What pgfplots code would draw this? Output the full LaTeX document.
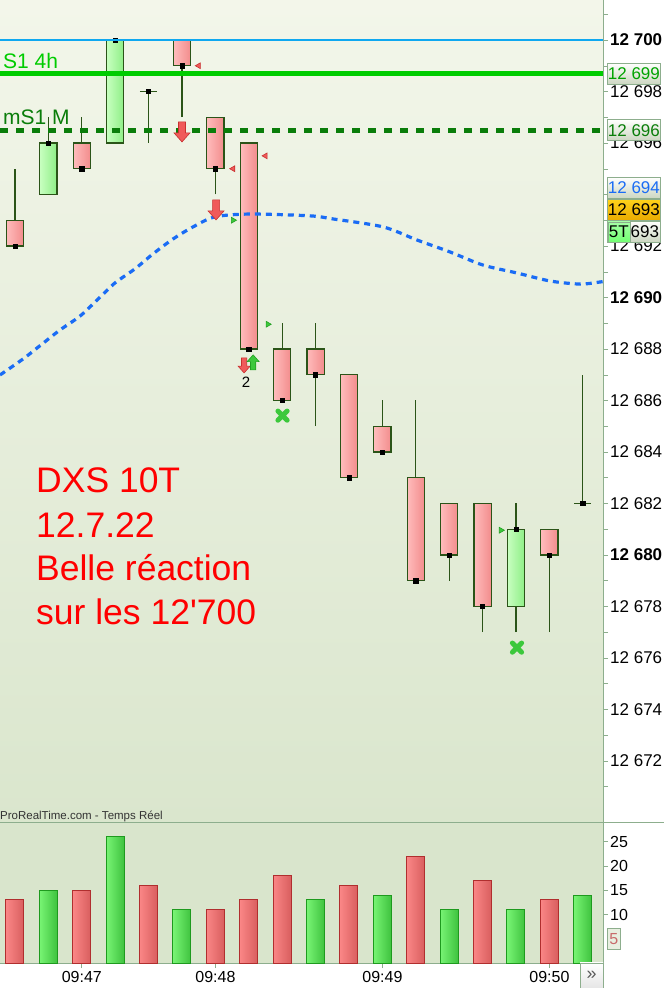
\documentclass[border=0pt]{standalone}
\usepackage{pgfplots}
\pgfplotsset{compat=1.18}
\usepackage{fontspec}
\setmainfont{Liberation Sans}

\definecolor{bgtop}{HTML}{F3F6EA}
\definecolor{bgbot}{HTML}{DAE6CD}
\definecolor{volbg}{HTML}{D9E5CC}
\definecolor{axgreen}{HTML}{8DAE8D}
\definecolor{wick}{HTML}{2B5418}
\definecolor{redL}{HTML}{FFBCBC}
\definecolor{redR}{HTML}{F28C8C}
\definecolor{grnL}{HTML}{C8FFC0}
\definecolor{grnR}{HTML}{8EEE86}
\definecolor{vredL}{HTML}{FA8686}
\definecolor{vredR}{HTML}{D85E5E}
\definecolor{vredD}{HTML}{B02E2E}
\definecolor{vgrnL}{HTML}{78F474}
\definecolor{vgrnR}{HTML}{3EC23E}
\definecolor{vgrnD}{HTML}{1E9A1E}
\definecolor{resblue}{HTML}{10A8F0}
\definecolor{s1green}{HTML}{00CC00}
\definecolor{ms1green}{HTML}{0A7D0A}
\definecolor{mablue}{HTML}{1A6CF5}
\definecolor{sigred}{HTML}{F05A5A}
\definecolor{sigredD}{HTML}{C83030}
\definecolor{siggreen}{HTML}{3CC83C}
\definecolor{siggreenD}{HTML}{22A022}
\definecolor{lastT}{HTML}{FFD21A}
\definecolor{lastB}{HTML}{E8AA00}

% block arrow mark, points down
\pgfdeclareplotmark{dnarrow}{%
  \pgfpathmoveto{\pgfqpoint{-0.35\pgfplotmarksize}{\pgfplotmarksize}}%
  \pgfpathlineto{\pgfqpoint{0.35\pgfplotmarksize}{\pgfplotmarksize}}%
  \pgfpathlineto{\pgfqpoint{0.35\pgfplotmarksize}{-0.1\pgfplotmarksize}}%
  \pgfpathlineto{\pgfqpoint{0.8\pgfplotmarksize}{-0.1\pgfplotmarksize}}%
  \pgfpathlineto{\pgfqpoint{0pt}{-\pgfplotmarksize}}%
  \pgfpathlineto{\pgfqpoint{-0.8\pgfplotmarksize}{-0.1\pgfplotmarksize}}%
  \pgfpathlineto{\pgfqpoint{-0.35\pgfplotmarksize}{-0.1\pgfplotmarksize}}%
  \pgfpathclose
  \pgfusepathqfillstroke}

\tikzset{
  redbody/.style={draw=wick, line width=1.2bp, left color=redL, right color=redR},
  grnbody/.style={draw=wick, line width=1.2bp, left color=grnL, right color=grnR},
  tag/.style={draw=axgreen, line width=0.8bp, top color=white!90!bgtop, bottom color=volbg!85!gray,
    minimum width=53bp, minimum height=21bp, inner sep=0pt, anchor=west,
    font=\fontsize{17bp}{20bp}\selectfont},
}
\pgfplotsset{
  vred/.style={ybar, bar width=18bp, bar shift=0pt, draw=vredD, line width=1bp, left color=vredL, right color=vredR},
  vgrn/.style={ybar, bar width=18bp, bar shift=0pt, draw=vgrnD, line width=1bp, left color=vgrnL, right color=vgrnR},
}

\begin{document}
\begin{tikzpicture}
\fill[white] (0,0) rectangle (664bp,988bp);
\useasboundingbox (0,0) rectangle (664bp,988bp);

% ---------------- price panel ----------------
\begin{axis}[
  at={(0,165bp)}, anchor=south west,
  scale only axis, width=603bp, height=823bp,
  xmin=-0.449, xmax=17.605,
  ymin=12669.59, ymax=12701.553,
  axis x line=none, axis y line*=right,
  y axis line style={draw=axgreen, line width=1bp},
  axis background/.style={top color=bgtop, bottom color=bgbot},
  ytick={12672,12674,...,12700},
  minor ytick={12671,12673,...,12701},
  yticklabels={12 672,12 674,12 676,12 678,\textbf{12 680},12 682,12 684,12 686,12 688,
    \textbf{12 690},12 692,{},12 696,12 698,\textbf{12 700}},
  scaled y ticks=false,
  tick align=outside, major tick length=5bp, minor tick length=5bp,
  every tick/.style={axgreen, line width=0.8bp},
  yticklabel style={font=\fontsize{17bp}{20bp}\selectfont, text=black, inner sep=0pt, xshift=2bp},
  clip mode=individual,
]
% wicks
\addplot[wick, line width=1.3bp, unbounded coords=jump] coordinates {
  (0,12692)(0,12695)(0,nan) (1,12694)(1,12697)(1,nan) (2,12695)(2,12697)(2,nan)
  (4,12696)(4,12698)(4,nan) (5,12697)(5,12700)(5,nan) (6,12694)(6,12697)(6,nan)
  (8,12686)(8,12689)(8,nan) (9,12685)(9,12689)(9,nan) (11,12684)(11,12686)(11,nan)
  (12,12679)(12,12686)(12,nan) (13,12679)(13,12682)(13,nan) (14,12677)(14,12682)(14,nan)
  (15,12677)(15,12682)(15,nan) (16,12677)(16,12681)(16,nan) (17,12682)(17,12687)};
% doji crosses
\addplot[wick, line width=1.3bp, unbounded coords=jump] coordinates {
  (3.74,12698)(4.26,12698)(4,nan) (16.74,12682)(17.26,12682)};
% bodies
\addplot[redbody] coordinates {(-0.26,12692)(0.26,12692)(0.26,12693)(-0.26,12693)} --cycle;
\addplot[grnbody] coordinates {(0.74,12694)(1.26,12694)(1.26,12696)(0.74,12696)} --cycle;
\addplot[redbody] coordinates {(1.74,12695)(2.26,12695)(2.26,12696)(1.74,12696)} --cycle;
\addplot[grnbody] coordinates {(2.74,12696)(3.26,12696)(3.26,12700)(2.74,12700)} --cycle;
\addplot[redbody] coordinates {(4.74,12699)(5.26,12699)(5.26,12700)(4.74,12700)} --cycle;
\addplot[redbody] coordinates {(5.74,12695)(6.26,12695)(6.26,12697)(5.74,12697)} --cycle;
\addplot[redbody] coordinates {(6.74,12688)(7.26,12688)(7.26,12696)(6.74,12696)} --cycle;
\addplot[redbody] coordinates {(7.74,12686)(8.26,12686)(8.26,12688)(7.74,12688)} --cycle;
\addplot[redbody] coordinates {(8.74,12687)(9.26,12687)(9.26,12688)(8.74,12688)} --cycle;
\addplot[redbody] coordinates {(9.74,12683)(10.26,12683)(10.26,12687)(9.74,12687)} --cycle;
\addplot[redbody] coordinates {(10.74,12684)(11.26,12684)(11.26,12685)(10.74,12685)} --cycle;
\addplot[redbody] coordinates {(11.74,12679)(12.26,12679)(12.26,12683)(11.74,12683)} --cycle;
\addplot[redbody] coordinates {(12.74,12680)(13.26,12680)(13.26,12682)(12.74,12682)} --cycle;
\addplot[redbody] coordinates {(13.74,12678)(14.26,12678)(14.26,12682)(13.74,12682)} --cycle;
\addplot[grnbody] coordinates {(14.74,12678)(15.26,12678)(15.26,12681)(14.74,12681)} --cycle;
\addplot[redbody] coordinates {(15.74,12680)(16.26,12680)(16.26,12681)(15.74,12681)} --cycle;
% close markers
\addplot[only marks, mark=square*, mark size=2.1bp, black] coordinates {
  (0,12692)(1,12696)(2,12695)(3,12700)(4,12698)(5,12699)(6,12695)(7,12688)(8,12686)
  (9,12687)(10,12683)(11,12684)(12,12679)(13,12680)(14,12678)(15,12681)(16,12680)(17,12682)};

% support / resistance lines
\addplot[resblue, line width=2bp] coordinates {(-0.449,12700)(17.605,12700)};
\addplot[s1green, line width=5bp] coordinates {(-0.449,12698.68)(17.605,12698.68)};
\addplot[ms1green, line width=5bp, dash pattern=on 8.3bp off 7.7bp] coordinates {(-0.449,12696.49)(17.605,12696.49)};
% moving average
\addplot[mablue, line width=3.2bp, dash pattern=on 6bp off 5bp, smooth, tension=0.5] coordinates {
  (-0.449,12686.99)(0.24,12687.61)(0.81,12688.19)(1.35,12688.74)(1.95,12689.28)(2.49,12689.94)
  (2.99,12690.56)(3.59,12691.11)(4.13,12691.69)(4.73,12692.27)(5.33,12692.74)(5.99,12693.13)
  (7.04,12693.24)(8.83,12693.17)(9.52,12693.05)(11.02,12692.74)(12.04,12692.23)(13.02,12691.77)
  (14.01,12691.26)(15.03,12690.95)(16.02,12690.64)(16.92,12690.52)(17.51,12690.60)(17.605,12690.62)};

% signals
\addplot[only marks, mark=triangle*, mark size=3.4bp, mark options={rotate=90, fill=sigred, draw=sigredD, line width=0.6bp}]
  coordinates {(5.5,12699)(6.53,12695)(7.5,12695.5)};
\addplot[only marks, mark=triangle*, mark size=3.4bp, mark options={rotate=-90, fill=siggreen, draw=siggreenD, line width=0.6bp}]
  coordinates {(6.53,12693)(7.57,12688.96)(14.55,12680.96)};
\addplot[only marks, mark=dnarrow, mark size=10bp, mark options={fill=sigred, draw=sigredD, line width=0.6bp}]
  coordinates {(5.0,12696.43)(6.02,12693.4)};
\addplot[only marks, mark=dnarrow, mark size=7.5bp, mark options={fill=sigred, draw=sigredD, line width=0.6bp}]
  coordinates {(6.86,12687.36)};
\addplot[only marks, mark=dnarrow, mark size=7.5bp, mark options={rotate=180, fill=siggreen, draw=siggreenD, line width=0.6bp}]
  coordinates {(7.13,12687.48)};
\addplot[only marks, mark=x, mark size=6.5bp, mark options={siggreen, line width=5bp, line cap=round}]
  coordinates {(8.01,12685.41)(15.03,12676.4)};
\node[font=\fontsize{15bp}{18bp}\selectfont] at (axis cs:6.92,12686.72) {2};

% price tags on the scale
\node[tag, text=s1green!80!black] at (axis cs:17.605,12698.68) [xshift=4bp] {12 699};
\node[tag, text=ms1green] at (axis cs:17.605,12696.49) [xshift=4bp] {12 696};
\node[tag, text=mablue] at (axis cs:17.605,12694.25) [xshift=4bp] {12 694};
\node[tag, top color=lastT, bottom color=lastB, text=black] at (axis cs:17.605,12693.4) [xshift=4bp] {12 693};
\node[tag] at (axis cs:17.605,12692.55) [xshift=4bp] {\hspace*{22bp}693};
\node[draw=axgreen, line width=0.6bp, top color=green!35, bottom color=green!55!white, minimum height=20bp, minimum width=22bp,
  inner sep=0pt, anchor=west, font=\fontsize{17bp}{20bp}\selectfont] at (axis cs:17.605,12692.55) [xshift=4.5bp] {5T};
\end{axis}

% ---------------- volume panel ----------------
\begin{axis}[
  at={(0,25bp)}, anchor=south west,
  scale only axis, width=603bp, height=140bp,
  xmin=-0.449, xmax=17.605, ymin=0, ymax=28.87,
  axis x line*=bottom, axis y line*=right,
  axis line style={draw=axgreen, line width=1bp},
  axis background/.style={fill=volbg},
  xtick={2,6,11,16}, xticklabels={09:47,09:48,09:49,09:50},
  ytick={10,15,20,25},
  /pgf/number format/assume math mode=true,
  tick align=outside, major tick length=5bp,
  every tick/.style={axgreen, line width=0.8bp},
  ticklabel style={font=\fontsize{16bp}{19bp}\selectfont, text=black},
  yticklabel style={inner sep=0pt, xshift=2bp},
  xticklabel style={inner sep=0pt, yshift=-3bp},
  clip mode=individual,
]
\addplot[vred] coordinates {(0,13)};
\addplot[vgrn] coordinates {(1,15)};
\addplot[vred] coordinates {(2,15)};
\addplot[vgrn] coordinates {(3,26)};
\addplot[vred] coordinates {(4,16)};
\addplot[vgrn] coordinates {(5,11)};
\addplot[vred] coordinates {(6,11)};
\addplot[vred] coordinates {(7,13)};
\addplot[vred] coordinates {(8,18)};
\addplot[vgrn] coordinates {(9,13)};
\addplot[vred] coordinates {(10,16)};
\addplot[vgrn] coordinates {(11,14)};
\addplot[vred] coordinates {(12,22)};
\addplot[vgrn] coordinates {(13,11)};
\addplot[vred] coordinates {(14,17)};
\addplot[vgrn] coordinates {(15,11)};
\addplot[vred] coordinates {(16,13)};
\addplot[vgrn] coordinates {(17,14)};
\node[draw=axgreen, line width=0.8bp, fill=volbg!60!white, text=vredL!80!black, inner sep=0pt, minimum width=13bp, minimum height=21bp,
  anchor=west, font=\fontsize{16bp}{19bp}\selectfont] at (axis cs:17.605,5) [xshift=4bp] {5};
\end{axis}

% panel separator and corner button
\draw[axgreen, line width=1bp] (0,165bp) -- (664bp,165bp);
\draw[axgreen, line width=0.8bp, top color=white, bottom color=gray!20] (580bp,0) rectangle (603bp,25bp);
\node[text=gray!70!black, font=\fontsize{18bp}{20bp}\selectfont] at (591.5bp,13bp) {»};

% annotations
\node[anchor=base west, inner sep=0pt, text=s1green, font=\fontsize{21bp}{24bp}\selectfont] at (3bp,919bp) {S1 4h};
\node[anchor=base west, inner sep=0pt, text=ms1green, font=\fontsize{21bp}{24bp}\selectfont] at (3bp,863bp) {mS1 M};
\node[anchor=base west, inner sep=0pt, text=black!80, font=\fontsize{11.5bp}{13bp}\selectfont] at (0bp,168bp) {ProRealTime.com - Temps Réel};
\begin{scope}[every node/.style={anchor=base west, inner sep=0pt, text=red, font=\fontsize{35.5bp}{40bp}\selectfont}]
\node at (36bp,495bp) {DXS 10T};
\node at (36bp,450.3bp) {12.7.22};
\node at (36bp,407bp) {Belle réaction};
\node at (36bp,363bp) {sur les 12\textquotesingle 700};
\end{scope}
\end{tikzpicture}
\end{document}
